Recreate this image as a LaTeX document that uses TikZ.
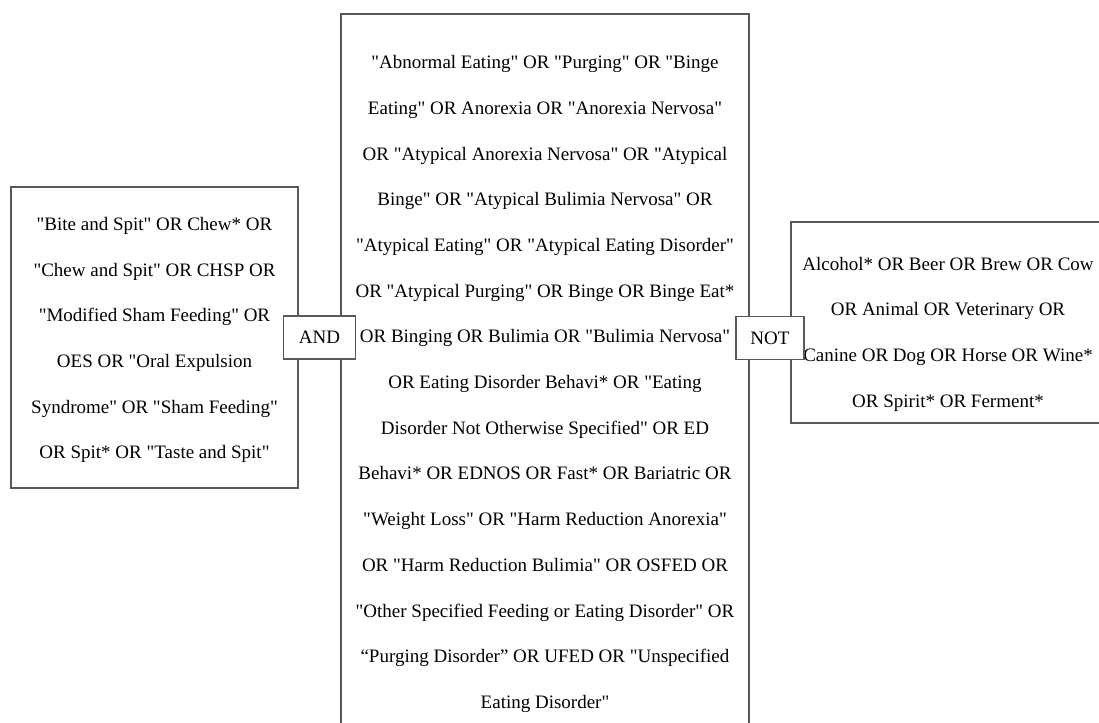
\documentclass[tikz,border=0pt]{standalone}
\usepackage{fontspec}
\setmainfont{Liberation Serif}[Ligatures=TeXOff]
\tikzset{
	boxline/.style={line width=1.2pt, color=black!65},
	termtext/.style={align=center, inner sep=0pt, font=\fontsize{19}{45.7}\selectfont},
	opbox/.style={draw=black!65, line width=1.2pt, fill=white, inner sep=0pt, minimum width=72, minimum height=43, font=\fontsize{19}{22}\selectfont}
}

\begin{document}
\begin{tikzpicture}[x=1pt, y=-1pt]
		%%%%% START %%%%%
		\useasboundingbox (0, 0) rectangle (1099, 722);
		
		\draw[boxline] (11, 187) rectangle (298, 488);
		\draw[boxline] (341, 14) rectangle (749, 745);
		\draw[boxline] (791, 222) rectangle (1105, 423);
		
		\node[termtext] (chew) at (154.5, 340) {"Bite and Spit" OR Chew* OR\\
			"Chew and Spit" OR CHSP OR\\
			"Modified Sham Feeding" OR\\
			OES OR "Oral Expulsion\\
			Syndrome" OR "Sham Feeding"\\
			OR Spit* OR "Taste and Spit"};
		
		\node[termtext] (eating) at (545, 384) {"Abnormal Eating" OR "Purging" OR "Binge\\
			Eating" OR Anorexia OR "Anorexia Nervosa"\\
			OR "Atypical Anorexia Nervosa" OR "Atypical\\
			Binge" OR "Atypical Bulimia Nervosa" OR\\
			"Atypical Eating" OR "Atypical Eating Disorder"\\
			OR "Atypical Purging" OR Binge OR Binge Eat*\\
			OR Binging OR Bulimia OR "Bulimia Nervosa"\\
			OR Eating Disorder Behavi* OR "Eating\\
			Disorder Not Otherwise Specified" OR ED\\
			Behavi* OR EDNOS OR Fast* OR Bariatric OR\\
			"Weight Loss" OR "Harm Reduction Anorexia"\\
			OR "Harm Reduction Bulimia" OR OSFED OR\\
			"Other Specified Feeding or Eating Disorder" OR\\
			“Purging Disorder” OR UFED OR "Unspecified\\
			Eating Disorder"};
		
		\node[termtext] (spirits) at (948, 334) {Alcohol* OR Beer OR Brew OR Cow\\
			OR Animal OR Veterinary OR\\
			Canine OR Dog OR Horse OR Wine*\\
			OR Spirit* OR Ferment*};
		
		\node[opbox] (and) at (319.5, 337.5) {AND};
		\node[opbox, minimum width=68] (not) at (770, 338) {NOT};
		
		%%%%% END %%%%%
\end{tikzpicture}
\end{document}
